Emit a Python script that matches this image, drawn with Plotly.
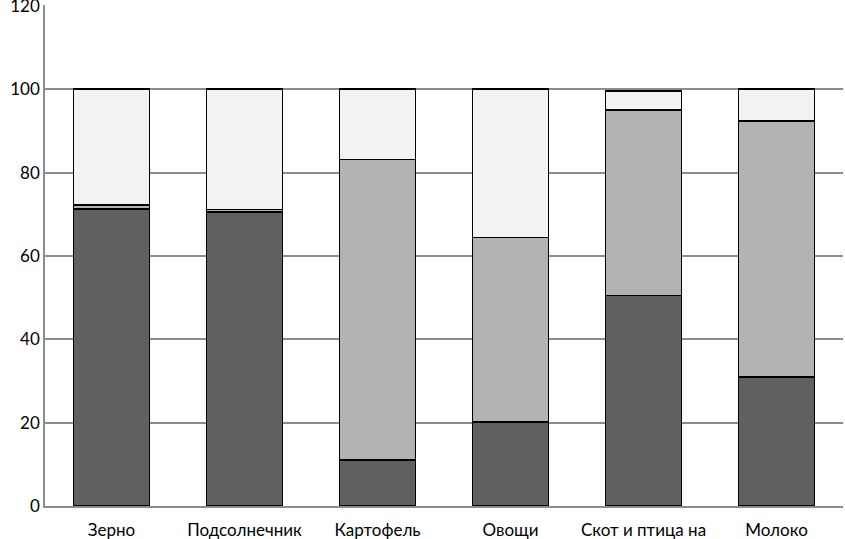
import plotly.graph_objects as go

categories = ["Зерно", "Подсолнечник", "Картофель", "Овощи", "Скот и птица на", "Молоко"]
series1 = [71.2, 70.6, 11.0, 20.1, 50.5, 30.9]
series2 = [1.0, 0.5, 72.1, 44.3, 44.5, 61.4]
series3 = [27.8, 28.9, 16.9, 35.6, 4.6, 7.7]
y_ticks = [0, 20, 40, 60, 80, 100, 120]

colors = ["#606060", "#b3b3b3", "#f2f2f2"]

fig = go.Figure()
for vals, col in zip([series1, series2, series3], colors):
    fig.add_trace(go.Bar(
        x=categories, y=vals,
        marker=dict(color=col, line=dict(color="black", width=1.6)),
        width=0.57,
    ))

fig.update_layout(
    barmode="stack",
    width=845, height=539,
    margin=dict(l=45, r=2, t=5, b=33, autoexpand=False),
    plot_bgcolor="white", paper_bgcolor="white",
    showlegend=False,
    font=dict(family="Lato, Open Sans, sans-serif", size=17, color="black"),
    xaxis=dict(showgrid=False, showline=True, linecolor="#8c8c8c", linewidth=1.5,
               ticks="", automargin=False, ticklabelstandoff=8, tickfont=dict(size=17)),
    yaxis=dict(range=[0, 120.2], tickvals=y_ticks, showgrid=True, gridcolor="#8c8c8c",
               gridwidth=1.5, showline=True, linecolor="#8c8c8c", linewidth=1.5,
               ticks="", zeroline=False, automargin=False, ticklabeloverflow="allow",
               tickfont=dict(size=17)),
)

fig.write_html("out.html", config={"displayModeBar": False},
               post_script="document.body.style.margin='0';")
